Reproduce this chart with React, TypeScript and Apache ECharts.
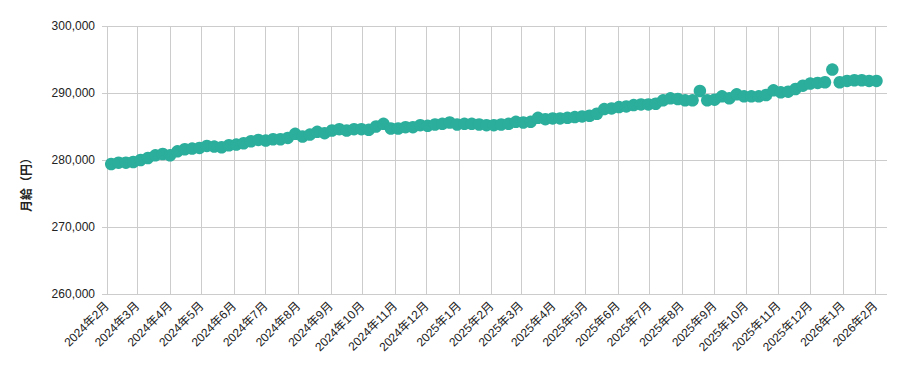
import React, { useEffect, useRef } from "react";
import * as echarts from "echarts";

// Weekly points: first on 2024-02-05, one every 7 days
const firstPointDate = "2024-02-05";
const axisStartDate = "2024-02-01";
const axisEndDate = "2026-02-12";

const salaryValues: number[] = [
  279400, 279600, 279600, 279700, 280000, 280300, 280700, 280900, 280700, 281300,
  281600, 281700, 281800, 282100, 282000, 281900, 282200, 282300, 282500, 282800,
  283000, 282900, 283100, 283100, 283300, 283900, 283500, 283800, 284200, 284000,
  284400, 284600, 284400, 284600, 284600, 284500, 285000, 285400, 284700, 284700,
  284900, 284900, 285200, 285100, 285300, 285400, 285600, 285300, 285400, 285400,
  285300, 285200, 285200, 285300, 285400, 285700, 285600, 285700, 286300, 286100,
  286200, 286200, 286300, 286400, 286500, 286600, 286900, 287600, 287700, 287900,
  288000, 288200, 288300, 288300, 288400, 288900, 289200, 289100, 288900, 288900,
  290300, 288900, 289000, 289500, 289200, 289800, 289500, 289500, 289500, 289700,
  290400, 290100, 290200, 290600, 291100, 291400, 291500, 291600, 293500, 291600,
  291800, 291900, 291900, 291800, 291800,
];

const yTicks = [260000, 270000, 280000, 290000, 300000];
const yAxisTitle = "月給（円）";

const DAY = 86400000;
function parseUTC(s: string): number {
  const [y, m, d] = s.split("-").map(Number);
  return Date.UTC(y, m - 1, d);
}
function fmt(t: number): string {
  return new Date(t).toISOString().slice(0, 10);
}

const dayCategories: string[] = [];
for (let t = parseUTC(axisStartDate); t <= parseUTC(axisEndDate); t += DAY) {
  dayCategories.push(fmt(t));
}
const pointDates: string[] = salaryValues.map((_, i) => fmt(parseUTC(firstPointDate) + i * 7 * DAY));

const isMonthStart = (_i: number, v: string) => typeof v === "string" && v.endsWith("-01");

export default function App() {
  const ref = useRef<HTMLDivElement>(null);
  useEffect(() => {
    if (!ref.current) return;
    document.body.style.margin = "0";
    const chart = echarts.init(ref.current, undefined, { renderer: "svg" });
    const font = "'Liberation Sans', Arial, 'Noto Sans CJK JP', sans-serif";
    chart.setOption({
      animation: false,
      textStyle: { fontFamily: font },
      grid: { left: 107, right: 18, top: 26, bottom: 77 },
      xAxis: {
        type: "category",
        data: dayCategories,
        boundaryGap: false,
        axisLine: { show: false },
        axisTick: { show: false },
        axisLabel: {
          interval: isMonthStart,
          rotate: 45,
          margin: 10,
          fontSize: 12,
          color: "#222",
          fontFamily: font,
          formatter: (v: string) => {
            const [y, m] = v.split("-");
            return `${y}年${Number(m)}月`;
          },
        },
        splitLine: { show: true, interval: isMonthStart, lineStyle: { color: "#cccccc", width: 1 } },
      },
      yAxis: {
        type: "value",
        min: yTicks[0],
        max: yTicks[yTicks.length - 1],
        interval: 10000,
        axisLine: { show: false },
        axisTick: { show: true, length: 5, lineStyle: { color: "#cccccc" } },
        axisLabel: {
          margin: 12,
          fontSize: 12,
          color: "#222",
          fontFamily: font,
          formatter: (v: number) => v.toLocaleString("en-US"),
        },
        splitLine: { show: true, lineStyle: { color: "#cccccc", width: 1 } },
      },
      graphic: [
        {
          type: "text",
          x: 27,
          y: 182,
          rotation: Math.PI / 2,
          style: {
            text: yAxisTitle,
            fontSize: 12,
            fontWeight: "bold",
            fill: "#222",
            fontFamily: font,
            textAlign: "center",
            textVerticalAlign: "middle",
            verticalAlign: "middle",
          },
        },
      ],
      series: [
        {
          type: "scatter",
          data: pointDates.map((d, i) => [d, salaryValues[i]]),
          symbol: "circle",
          symbolSize: 12.5,
          itemStyle: { color: "#2bae9b", opacity: 1 },
        },
      ],
    });
    return () => chart.dispose();
  }, []);
  return <div ref={ref} style={{ width: 905, height: 371 }} />;
}
